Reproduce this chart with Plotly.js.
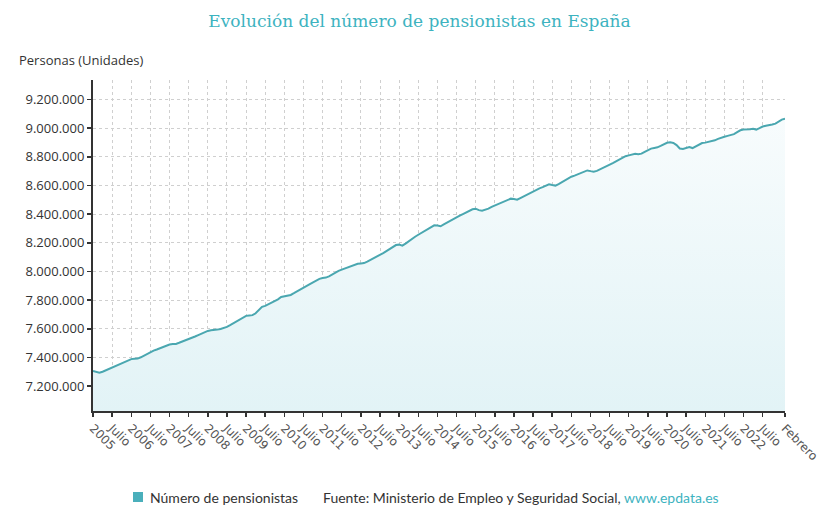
<!DOCTYPE html>
<html>
<head>
<meta charset="utf-8">
<script src="https://cdn.plot.ly/plotly-3.0.1.min.js"></script>
<style>
  html, body { margin: 0; padding: 0; background: #fff; }
  #chart { width: 839px; height: 518px; }
</style>
</head>
<body>
<div id="chart"></div>
<script>
// Monthly categories, January 2005 to February 2023
const months = [];
for (let y = 2005; y <= 2023; y++) {
  for (let m = 1; m <= 12; m++) {
    if (y === 2023 && m > 2) break;
    months.push(y + '-' + String(m).padStart(2, '0'));
  }
}

// Number of pensioners (persons)
const pensionistas = [
  // 2005
  7305000, 7297000, 7293000, 7300000, 7310000, 7320000, 7330000, 7339000, 7349000, 7359000, 7369000, 7379000,
  // 2006
  7388000, 7391000, 7392000, 7401000, 7412000, 7425000, 7439000, 7447000, 7455000, 7464000, 7473000, 7482000,
  // 2007
  7490000, 7493000, 7494000, 7502000, 7510000, 7518000, 7527000, 7536000, 7546000, 7556000, 7566000, 7576000,
  // 2008
  7585000, 7589000, 7590000, 7594000, 7598000, 7605000, 7613000, 7625000, 7638000, 7651000, 7664000, 7677000,
  // 2009
  7690000, 7693000, 7695000, 7708000, 7730000, 7753000, 7760000, 7770000, 7781000, 7792000, 7805000, 7822000,
  // 2010
  7826000, 7828000, 7836000, 7848000, 7862000, 7876000, 7888000, 7900000, 7912000, 7924000, 7938000, 7948000,
  // 2011
  7954000, 7957000, 7966000, 7980000, 7994000, 8004000, 8013000, 8022000, 8031000, 8040000, 8048000, 8054000,
  // 2012
  8056000, 8058000, 8069000, 8080000, 8090000, 8102000, 8115000, 8128000, 8142000, 8157000, 8171000, 8184000,
  // 2013
  8187000, 8180000, 8194000, 8211000, 8229000, 8242000, 8256000, 8270000, 8284000, 8297000, 8310000, 8322000,
  // 2014
  8320000, 8315000, 8328000, 8341000, 8352000, 8363000, 8376000, 8389000, 8400000, 8410000, 8420000, 8434000,
  // 2015
  8438000, 8428000, 8424000, 8430000, 8438000, 8450000, 8460000, 8467000, 8475000, 8485000, 8498000, 8508000,
  // 2016
  8505000, 8501000, 8512000, 8524000, 8534000, 8544000, 8556000, 8569000, 8580000, 8588000, 8598000, 8608000,
  // 2017
  8603000, 8599000, 8610000, 8624000, 8637000, 8650000, 8661000, 8669000, 8677000, 8685000, 8695000, 8705000,
  // 2018
  8700000, 8696000, 8702000, 8712000, 8722000, 8733000, 8745000, 8756000, 8768000, 8780000, 8792000, 8804000,
  // 2019
  8810000, 8815000, 8821000, 8818000, 8822000, 8835000, 8848000, 8857000, 8862000, 8866000, 8876000, 8890000,
  // 2020
  8898000, 8901000, 8897000, 8882000, 8858000, 8854000, 8859000, 8868000, 8861000, 8872000, 8886000, 8896000,
  // 2021
  8899000, 8903000, 8909000, 8915000, 8925000, 8934000, 8940000, 8946000, 8950000, 8958000, 8972000, 8985000,
  // 2022
  8990000, 8989000, 8993000, 8996000, 8990000, 9000000, 9011000, 9016000, 9019000, 9025000, 9031000, 9048000,
  // 2023
  9060000, 9066000
];

// X tick labels
const tickCategories = [];
const tickLabels = [];
for (let y = 2005; y <= 2022; y++) {
  tickCategories.push(y + '-01'); tickLabels.push(String(y));
  tickCategories.push(y + '-07'); tickLabels.push('Julio');
}
tickCategories.push('2023-02'); tickLabels.push('Febrero');

const seriesName = 'Número de pensionistas';
const teal = '#4aa7b0';

const trace = {
  type: 'scatter',
  mode: 'lines',
  x: months,
  y: pensionistas,
  name: seriesName,
  line: { color: teal, width: 2 },
  fill: 'tozeroy',
  fillgradient: {
    type: 'vertical',
    start: 7026000,
    stop: 9100000,
    colorscale: [[0, '#e2f3f6'], [1, '#f8fcfd']]
  },
  hoverinfo: 'x+y',
  showlegend: false
};

const W = 692, H = 331; // plot area in px
function px(x) { return (x - 93) / W; }
function py(y) { return (411 - y) / H; }

const layout = {
  width: 839,
  height: 518,
  margin: { l: 93, r: 54, t: 80, b: 107 },
  paper_bgcolor: '#ffffff',
  plot_bgcolor: '#ffffff',
  separators: ',.',
  font: { family: 'Open Sans, sans-serif', color: '#333' },
  title: {
    text: 'Evolución del número de pensionistas en España',
    font: { family: '"DejaVu Serif"', size: 17, color: '#3db3bf' },
    x: 0.5, xref: 'container', xanchor: 'center',
    y: 1 - 21 / 518, yref: 'container', yanchor: 'middle'
  },
  xaxis: {
    type: 'category',
    range: [0, months.length - 1],
    tickmode: 'array',
    tickvals: tickCategories,
    ticktext: tickLabels,
    tickangle: 45,
    tickfont: { family: 'DejaVu Sans, sans-serif', size: 12, color: '#555' },
    ticks: 'outside', ticklen: 4, tickcolor: '#333', tickwidth: 1.5,
    showline: true, linecolor: '#333', linewidth: 1.5,
    showgrid: true, gridcolor: '#cfcfcf', griddash: 'dot', gridwidth: 1,
    zeroline: false, fixedrange: true
  },
  yaxis: {
    range: [7026000, 9336000],
    tick0: 7200000, dtick: 200000,
    tickformat: ',d',
    tickfont: { family: 'Open Sans, sans-serif', size: 13, color: '#333' },
    ticks: 'outside', ticklen: 4, tickcolor: '#333', tickwidth: 1.5,
    showline: true, linecolor: '#333', linewidth: 2,
    showgrid: true, gridcolor: '#cfcfcf', griddash: 'dot', gridwidth: 1,
    zeroline: false, fixedrange: true
  },
  shapes: [
    {
      type: 'rect', xref: 'paper', yref: 'paper',
      x0: px(133), x1: px(143), y0: py(502), y1: py(492),
      fillcolor: '#4aafbb', line: { width: 0 }
    }
  ],
  annotations: [
    {
      text: 'Personas (Unidades)', xref: 'paper', yref: 'paper',
      x: px(17), y: py(60), xanchor: 'left', yanchor: 'middle',
      showarrow: false, font: { family: 'Open Sans, sans-serif', size: 13, color: '#333' }
    },
    {
      text: seriesName, xref: 'paper', yref: 'paper',
      x: px(148), y: py(497), xanchor: 'left', yanchor: 'middle',
      showarrow: false, font: { family: 'Lato, sans-serif', size: 14, color: '#333' }
    },
    {
      text: 'Fuente: Ministerio de Empleo y Seguridad Social, <span style="color:#3db3bf">www.epdata.es</span>',
      xref: 'paper', yref: 'paper',
      x: px(321), y: py(497), xanchor: 'left', yanchor: 'middle',
      showarrow: false, font: { family: 'Lato, sans-serif', size: 14, color: '#333' }
    }
  ]
};

Plotly.newPlot('chart', [trace], layout, { displayModeBar: false, staticPlot: true });
</script>
</body>
</html>
